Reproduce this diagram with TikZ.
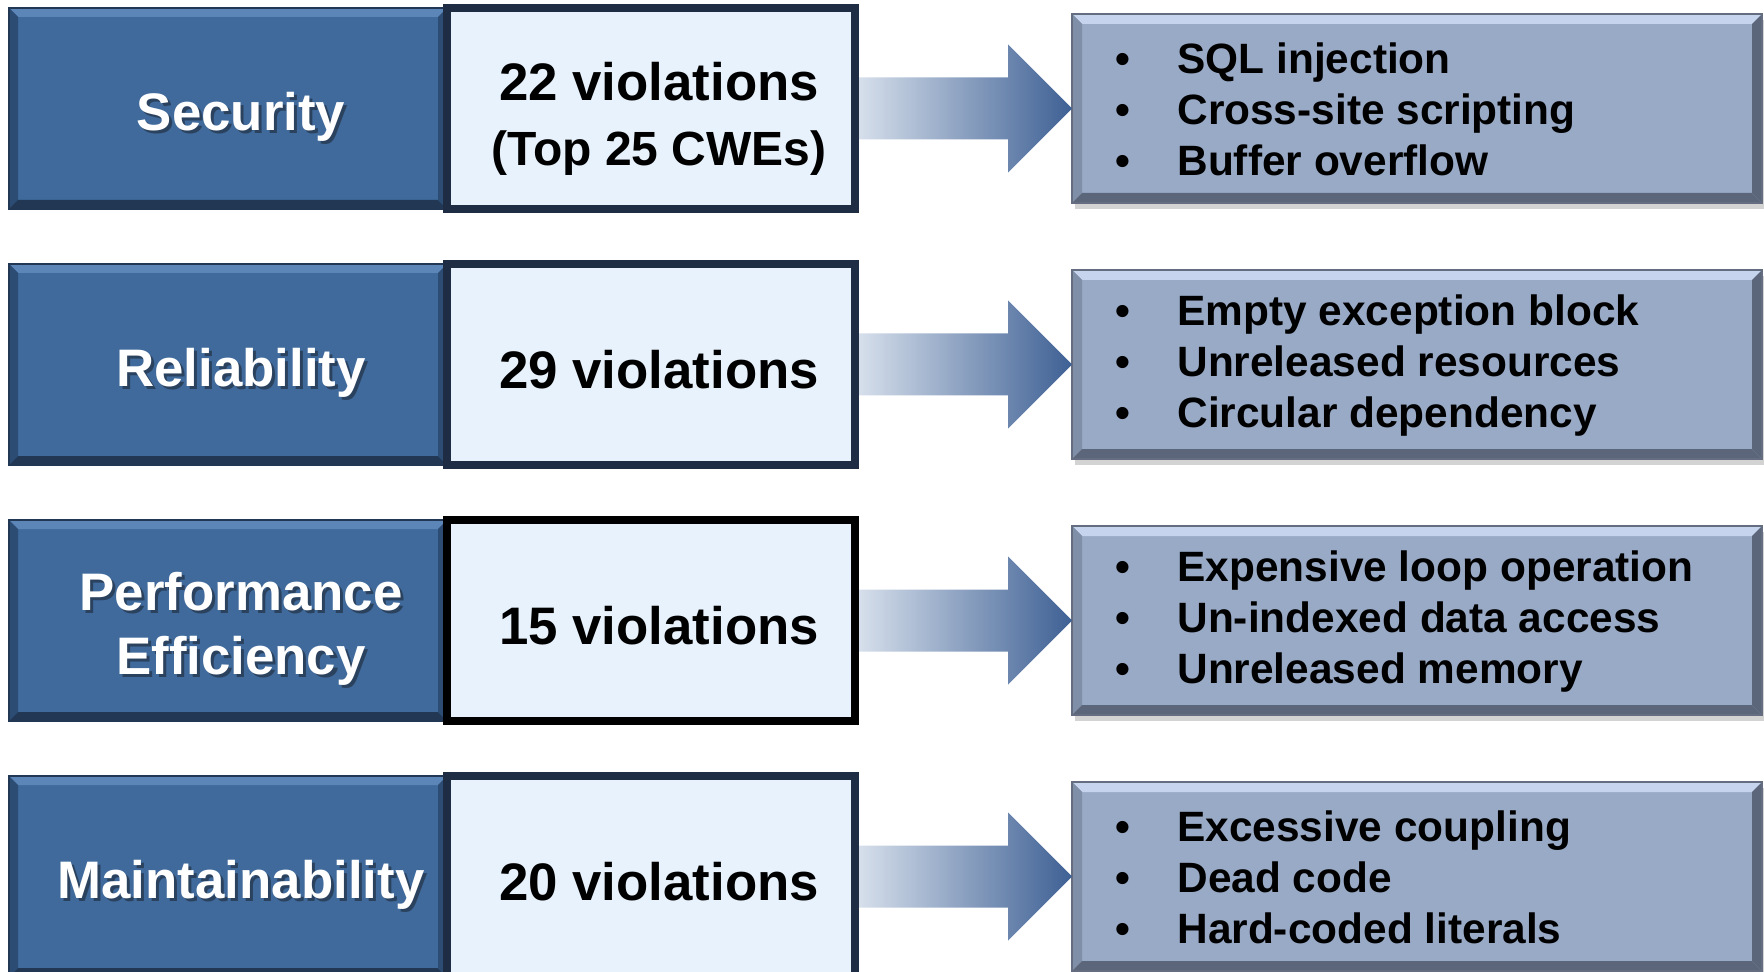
\documentclass[tikz,border=0pt]{standalone}
\usepackage{fontspec}
\setmainfont{Liberation Sans}
\usetikzlibrary{shadows}

\definecolor{catblue}{RGB}{63,106,155}
\definecolor{cattop}{RGB}{92,134,184}
\definecolor{catside}{RGB}{44,76,116}
\definecolor{catdark}{RGB}{33,55,84}
\definecolor{catshadow}{RGB}{30,40,56}
\definecolor{numfill}{RGB}{232,242,252}
\definecolor{numline}{RGB}{30,45,68}
\definecolor{listfill}{RGB}{153,170,198}
\definecolor{listtop}{RGB}{198,212,237}
\definecolor{listside}{RGB}{128,143,168}
\definecolor{listdark}{RGB}{92,102,122}
\definecolor{listedge}{RGB}{100,110,128}
\definecolor{arrlight}{RGB}{214,223,235}
\definecolor{arrdark}{RGB}{62,96,148}

\newcommand\bl{\makebox[31pt][l]{\textbullet}}

\tikzset{
  bevel/.style n args={5}{path picture={
    \coordinate (nw) at (path picture bounding box.north west);
    \coordinate (ne) at (path picture bounding box.north east);
    \coordinate (sw) at (path picture bounding box.south west);
    \coordinate (se) at (path picture bounding box.south east);
    \fill[#1] (nw) -- (ne) -- ([shift={(-#5,-#5)}]ne) -- ([shift={(#5,-#5)}]nw) -- cycle;
    \fill[#2] (nw) -- (sw) -- ([shift={(#5,#5)}]sw) -- ([shift={(#5,-#5)}]nw) -- cycle;
    \fill[#3] (sw) -- (se) -- ([shift={(-#5,#5)}]se) -- ([shift={(#5,#5)}]sw) -- cycle;
    \fill[#4] (ne) -- (se) -- ([shift={(-#5,#5)}]se) -- ([shift={(-#5,-#5)}]ne) -- cycle;
  }},
  catbox/.style={rectangle, fill=catblue, draw=catdark, line width=1pt, outer sep=0,
    minimum width=219pt, minimum height=100.5pt,
    bevel={cattop}{catside}{catdark}{catside}{4.5pt}},
  cattext/.style={text=white, align=center, inner sep=0,
    font=\fontsize{26.4}{32}\selectfont\bfseries},
  catshade/.style={cattext, text=catshadow, opacity=0.6},
  numbox/.style={rectangle, fill=numfill, line width=4pt, outer sep=0,
    minimum width=204pt, minimum height=100.5pt},
  numtext/.style={align=center, inner sep=0,
    font=\fontsize{26.4}{32.5}\selectfont\bfseries},
  listbox/.style={rectangle, fill=listfill, draw=listedge, line width=0.6pt, outer sep=0,
    minimum width=345pt, minimum height=94.5pt,
    drop shadow={shadow xshift=1.5pt, shadow yshift=-3pt, opacity=0.35},
    bevel={listtop}{listside}{listdark}{listdark}{5pt}},
  listtext/.style={align=left, inner sep=0,
    font=\fontsize{21.2}{25.5}\selectfont\bfseries},
}

\begin{document}
\begin{tikzpicture}[x=0.5pt, y=-0.5pt]
\useasboundingbox (0,0) rectangle (1764,972);

\foreach \i/\cat/\num/\dy/\edge/\items in {
  1/Security/{22 violations\\{\fontsize{24}{29}\selectfont(Top 25 CWEs)}}/10/numline/{\bl SQL injection\\\bl Cross-site scripting\\\bl Buffer overflow},
  2/Reliability/{29 violations}/5/numline/{\bl Empty exception block\\\bl Unreleased resources\\\bl Circular dependency},
  3/{Performance\\Efficiency}/{15 violations}/5/black/{\bl Expensive loop operation\\\bl Un-indexed data access\\\bl Unreleased memory},
  4/Maintainability/{20 violations}/5/numline/{\bl Excessive coupling\\\bl Dead code\\\bl Hard-coded literals}}
{
  \pgfmathsetmacro\c{108.5+256*(\i-1)}
  \node[catbox] (cat\i) at (228,\c) {};
  \node[catshade] (cats\i) at (244,\c+11) {\cat};
  \node[cattext] (catt\i) at (241,\c+8) {\cat};
  \node[numbox, draw=\edge] (num\i) at (651,\c) {};
  \node[numtext] (numt\i) at (659,\c+\dy) {\num};
  \node[listbox] (list\i) at (1417,\c) {};
  \node[listtext, anchor=west] (item\i) at (1115,\c+1) {\items};
  % arrow from count to list
  \shade[left color=arrlight, right color=arrdark]
    ([xshift=2pt]num\i.east) ++(0,-31) -- ++(149,0) -- ++(0,-33) -- (list\i.west)
    -- ++(-64,64) -- ++(0,-33) -- ++(-149,0) -- cycle;
}
\end{tikzpicture}
\end{document}
